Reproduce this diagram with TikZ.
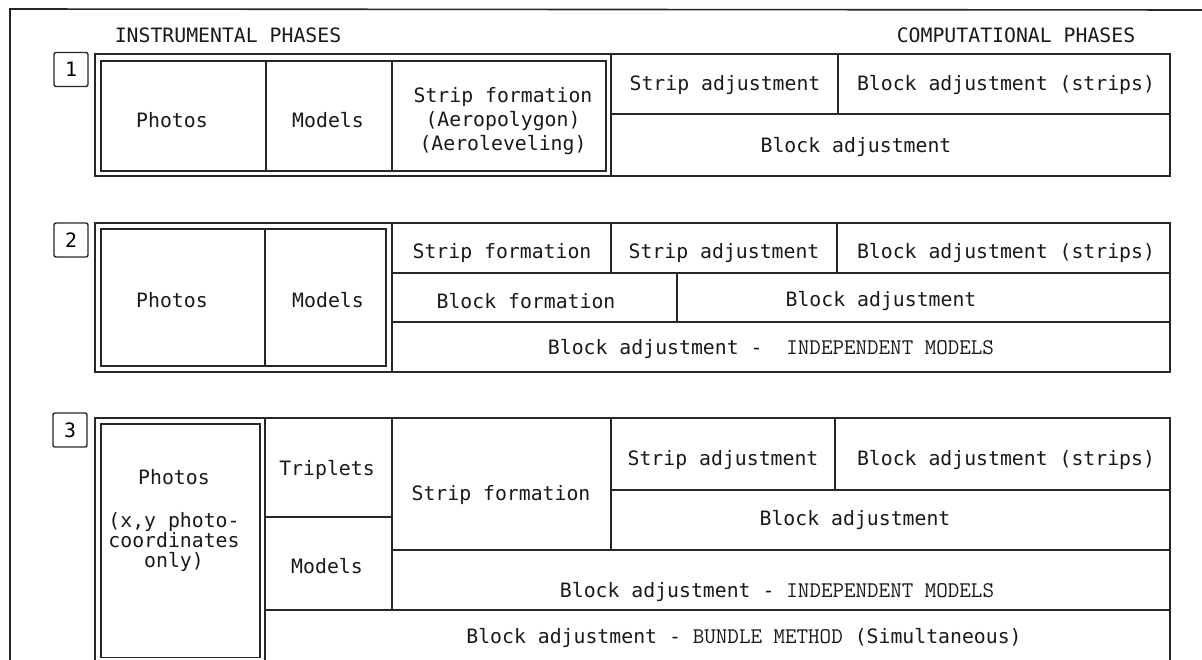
\documentclass[tikz,border=0pt]{standalone}
\usepackage{fontspec}
\setmonofont{DejaVu Sans Mono}
\newfontfamily\capsmono{Latin Modern Mono}
\newcommand\capsword[1]{{\capsmono\fontsize{11.2}{12}\selectfont #1}}
\begin{document}
\begin{tikzpicture}[x=0.5pt,y=-0.5pt,
  txt/.style={font=\fontsize{9.9}{12}\ttfamily, inner sep=0pt, align=center, text=black!90},
  cell/.style={draw=black!85, line width=0.7pt},
  frame/.style={draw=black!85, line width=0.8pt},
  numbox/.style={draw=black!85, line width=0.7pt, rounded corners=1pt, minimum width=17pt, minimum height=17pt, inner sep=0pt, font=\fontsize{9.9}{12}\ttfamily}
  ]
\useasboundingbox (0,0) rectangle (1202,659);
\begin{scope}
\clip (0,0) rectangle (1202,659);
% outer frame
\draw[frame] (10,670) -- (10,9) -- (1210,10);
% headings
\node[txt] (hinst) at (228,35) {INSTRUMENTAL PHASES};
\node[txt] (hcomp) at (1016,35) {COMPUTATIONAL PHASES};
% ---------------- panel 1
\node[numbox] (n1) at (71,69.5) {1};
\draw[cell] (95,54) rectangle (611,176);
\draw[cell] (101,61) rectangle (606,171);
\draw[cell] (266,61) -- (266,171);
\draw[cell] (392,61) -- (392,171);
\draw[cell] (611,54) rectangle (1170,176);
\draw[cell] (611,114) -- (1170,114);
\draw[cell] (838,54) -- (838,114);
\node[txt] (p1photos) at (172,120) {Photos};
\node[txt] (p1models) at (328,120) {Models};
\node[txt] (p1strip) at (503,121) {Strip formation\\(Aeropolygon)\\(Aeroleveling)};
\node[txt] (p1sadj) at (725,85) {Strip adjustment};
\node[txt] (p1bas) at (1006,85) {Block adjustment (strips)};
\node[txt] (p1ba) at (856,147) {Block adjustment};
% ---------------- panel 2
\node[numbox] (n2) at (71,240) {2};
\draw[cell] (95,223) rectangle (392,372);
\draw[cell] (101,229) rectangle (386,366);
\draw[cell] (265,229) -- (265,366);
\draw[cell] (392,223) rectangle (1170,372);
\draw[cell] (392,273) -- (1170,273);
\draw[cell] (392,322) -- (1170,322);
\draw[cell] (611,223) -- (611,273);
\draw[cell] (837,223) -- (837,273);
\draw[cell] (677,273) -- (677,322);
\node[txt] (p2photos) at (172,300) {Photos};
\node[txt] (p2models) at (328,300) {Models};
\node[txt] (p2strip) at (502,253) {Strip formation};
\node[txt] (p2sadj) at (724,253) {Strip adjustment};
\node[txt] (p2bas) at (1006,253) {Block adjustment (strips)};
\node[txt] (p2bf) at (526,301) {Block formation};
\node[txt] (p2ba) at (881,301) {Block adjustment};
\node[txt] (p2im) at (771,349) {Block adjustment -\ \ \capsword{INDEPENDENT MODELS}};
% ---------------- panel 3
\node[numbox] (n3) at (70,430) {3};
\draw[cell] (95,418) rectangle (265,665);
\draw[cell] (101,424) rectangle (260,657.5);
\draw[cell] (265,418) -- (1170,418) -- (1170,670);
\draw[cell] (265,517) -- (392,517);
\draw[cell] (392,418) -- (392,610);
\draw[cell] (265,610) -- (1170,610);
\draw[cell] (611,418) -- (611,550);
\draw[cell] (392,550) -- (1170,550);
\draw[cell] (611,490) -- (1170,490);
\draw[cell] (835,418) -- (835,490);
\node[txt, font=\fontsize{9.9}{10}\ttfamily] (p3photos) at (174,521) {Photos\\[11.5pt](x,y photo-\\coordinates\\only)};
\node[txt] (p3trip) at (327,470) {Triplets};
\node[txt] (p3models) at (327,566) {Models};
\node[txt] (p3strip) at (501,495) {Strip formation};
\node[txt] (p3sadj) at (723,460) {Strip adjustment};
\node[txt] (p3bas) at (1006,460) {Block adjustment (strips)};
\node[txt] (p3ba) at (855,520) {Block adjustment};
\node[txt] (p3im) at (777,592) {Block adjustment - \capsword{INDEPENDENT MODELS}};
\node[txt] (p3bm) at (744,638) {Block adjustment - \capsword{BUNDLE METHOD} (Simultaneous)};
\end{scope}
\end{tikzpicture}
\end{document}
